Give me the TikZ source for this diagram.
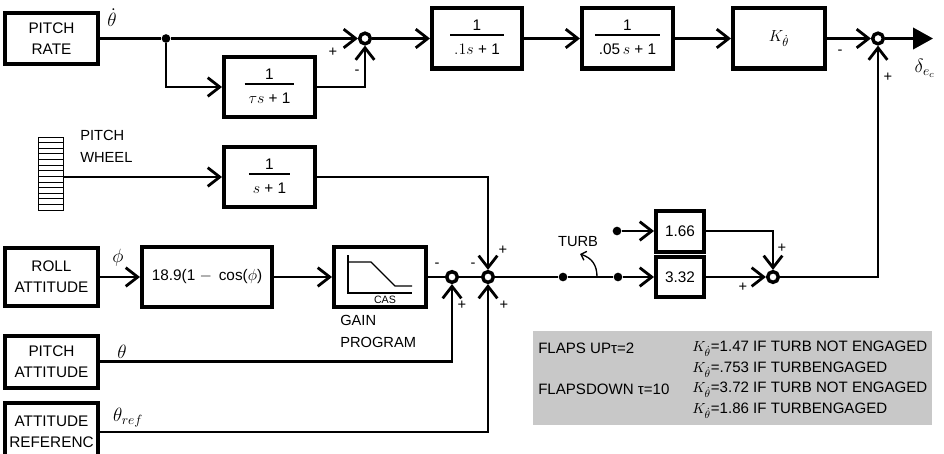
\documentclass[tikz,border=0pt]{standalone}
\usepackage{fontspec}
\setmainfont{Liberation Sans}
\usetikzlibrary{arrows.meta,calc}
\definecolor{panelgray}{RGB}{200,200,200}
% transfer-function block: numerator over a rule over denominator
\newcommand\blkfrac[2]{\begin{tabular}{@{\hspace{3pt}}c@{\hspace{3pt}}}#1\\[-2pt]\hline\rule{0pt}{14pt}#2\end{tabular}}
\setlength\arrayrulewidth{1.5pt}
\begin{document}
\begin{tikzpicture}[x=0.75pt,y=-0.75pt,
  >={Straight Barb[length=9pt,width=14pt]},
  conn/.style={line width=2.1pt},
  blk/.style 2 args={draw,line width=3pt,inner sep=0pt,align=center,
     minimum width={#1*0.75pt},minimum height={#2*0.75pt},
     font=\fontsize{11.5}{16}\selectfont},
  sum/.style={circle,draw,fill=white,line width=2.6pt,minimum size=8pt,inner sep=0pt},
  dot/.style={circle,fill,inner sep=0pt,minimum size=6.5pt},
  sgn/.style={font=\fontsize{11}{11}\selectfont,inner sep=0pt},
  lbl/.style={font=\fontsize{11}{16.5}\selectfont,inner sep=0pt,align=left},
  sig/.style={font=\fontsize{14}{14}\selectfont,inner sep=0pt},
  ptxt/.style={font=\fontsize{11.3}{14}\selectfont,inner sep=0pt,anchor=west},
  thinl/.style={line width=1pt}]

\useasboundingbox (0,0) rectangle (944,453);

% ---------- pitch-rate path ----------
\node[blk={93}{51}] (prate) at (51.5,38.5) {PITCH\\RATE};
\node[dot] (d0) at (166,38.5) {};
\node[blk={91}{60}] (btau) at (269.5,87) {\blkfrac{1}{$\tau s$ + 1}};
\node[sum] (s0) at (365,38.5) {};
\node[blk={90}{60}] (b1) at (477,38.5) {\blkfrac{1}{$.1s$ + 1}};
\node[blk={91}{60}] (b2) at (627.5,38.5) {\blkfrac{1}{.05\,$s$ + 1}};
\node[blk={92}{60},font=\fontsize{13}{13}\selectfont] (bk) at (779,38.5) {$K_{\dot\theta}$};
\node[sum] (s4) at (878,38.5) {};
\coordinate (out) at (933,38.5);

\node[sig] (thd) at (112,18) {$\dot\theta$};
\node[sig] (dec) at (925,68) {$\delta_{e_c}$};

\draw[conn] (prate) -- (d0);
\draw[conn,->] (d0) -- (s0);
\draw[conn,->] (d0) |- (btau);
\draw[conn,->] (btau) -| (s0);
\draw[conn,->] (s0) -- (b1);
\draw[conn,->] (b1) -- (b2);
\draw[conn,->] (b2) -- (bk);
\draw[conn,->] (bk) -- (s4);
\draw[conn,-{Triangle[length=15pt,width=16pt]}] (s4) -- (out);

\node[sgn] at (333,52) {+};
\node[sgn] at (357,72) {-};
\node[sgn] at (840,52) {-};
\node[sgn] at (888,77) {+};

% ---------- pitch wheel ----------
\node[draw,line width=0.6pt,minimum width=18.75pt,minimum height=54.75pt,inner sep=0pt,
  path picture={
    \foreach \k in {1,...,12}
      \draw[line width=0.6pt] ($(path picture bounding box.north west)!\k/13!(path picture bounding box.south west)$)
        -- ($(path picture bounding box.north east)!\k/13!(path picture bounding box.south east)$);
  }] (wheel) at (50.5,173.5) {};
\node[lbl,anchor=west] (wtxt) at (80,146) {PITCH\\WHEEL};
\node[blk={91}{60}] (bw) at (269.5,177) {\blkfrac{1}{$s$ + 1}};
\draw[conn,->] (wheel.east |- bw.west) -- (bw.west);

% ---------- roll / attitude path ----------
\node[blk={93}{58}] (roll) at (51.5,277) {ROLL\\ATTITUDE};
\node[blk={130}{60}] (fcos) at (207,277) {18.9(1 $-$ \,cos($\phi$)};
\node[blk={92}{60}] (cas) at (380,277) {};
\draw[thinl] (348,255) -- (348,293) -- (412,293);
\draw[thinl] (348,262) -- (371,262) -- (395,286) -- (412,286);
\node[font=\fontsize{8}{8}\selectfont,inner sep=0pt] (castxt) at (385,300) {CAS};
\node[lbl,anchor=west] (gtxt) at (340,331) {GAIN\\PROGRAM};
\node[sig] (phl) at (118,258) {$\phi$};

\node[sum] (s1) at (452,277) {};
\node[sum] (s2) at (488,277) {};

\node[blk={93}{52}] (patt) at (51.5,361.5) {PITCH\\ATTITUDE};
\node[sig] (thl) at (122,352) {$\theta$};
\node[blk={93}{58}] (aref) at (51.5,432) {ATTITUDE\\REFERENC};
\node[sig] (trl) at (128,418) {$\theta_{ref}$};

\draw[conn,->] (roll) -- (fcos);
\draw[conn,->] (fcos) -- (cas);
\draw[conn] (cas) -- (s1);
\draw[conn] (s1) -- (s2);
\draw[conn,->] (patt) -| (s1);
\draw[conn,->] (aref) -| (s2);
\draw[conn,->] (bw) -| (s2);

\node[sgn] at (437,265) {-};
\node[sgn] at (462,305) {+};
\node[sgn] at (473,265) {-};
\node[sgn] at (503,250) {+};
\node[sgn] at (504,305) {+};

% ---------- turbulence switch and gains ----------
\node[dot] (d1) at (563,277) {};
\node[dot] (d2) at (618,277) {};
\node[dot] (d3) at (617,231) {};
\node[blk={48}{41}] (b166) at (680,231) {1.66};
\node[blk={48}{40}] (b332) at (680,277) {3.32};
\node[sum] (s3) at (773,277) {};

\draw[conn] (s2) -- (d1) -- (d2);
\draw[conn,->] (d2) -- (b332);
\draw[conn,->] (d3) -- (b166);
\draw[conn,->] (b166) -| (s3);
\draw[conn,->] (b332) -- (s3);
\draw[conn,->] (s3) -| (s4);

\coordinate (swb) at (597,277);
\coordinate (swt) at (580,254);
\draw[thinl,-{Straight Barb[length=3.5pt,width=7pt]}] (swb) .. controls (597,265) and (592,258) .. (swt);
\node[lbl] (turb) at (578,242) {TURB};

\node[sgn] at (782,248) {+};
\node[sgn] at (743,287) {+};

% ---------- gain schedule panel ----------
\node[fill=panelgray,minimum width={399*0.75pt},minimum height={94*0.75pt},inner sep=0pt] (panel) at (732.5,378) {};
\node[ptxt] (fu) at (538,348) {FLAPS UPτ=2};
\node[ptxt] (fd) at (538,389) {FLAPSDOWN τ=10};
\node[ptxt] (k1) at (692,349) {$K_{\dot\theta}$=1.47 IF TURB NOT ENGAGED};
\node[ptxt] (k2) at (692,370) {$K_{\dot\theta}$=.753 IF TURBENGAGED};
\node[ptxt] (k3) at (692,390) {$K_{\dot\theta}$=3.72 IF TURB NOT ENGAGED};
\node[ptxt] (k4) at (692,411) {$K_{\dot\theta}$=1.86 IF TURBENGAGED};
\end{tikzpicture}
\end{document}
